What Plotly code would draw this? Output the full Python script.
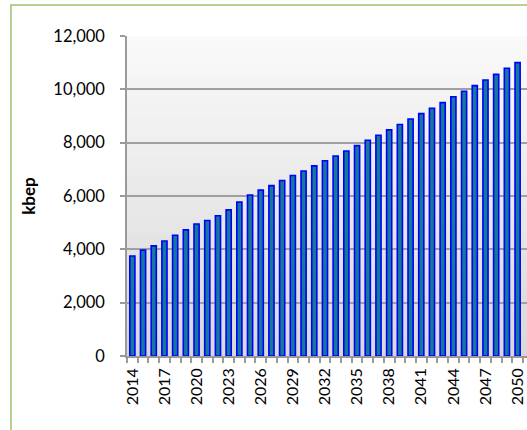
import plotly.graph_objects as go

years = list(range(2014, 2051))
values = [3750, 3970, 4130, 4310, 4530, 4730, 4950, 5080, 5260, 5480,
          5770, 6040, 6220, 6390, 6580, 6770, 6940, 7130, 7320, 7500,
          7690, 7890, 8090, 8280, 8480, 8680, 8890, 9090, 9290, 9500,
          9720, 9930, 10140, 10350, 10560, 10790, 11000]
label_years = list(range(2014, 2051, 3))
y_ticks = [0, 2000, 4000, 6000, 8000, 10000, 12000]

FONT = "Lato"

fig = go.Figure()
fig.add_trace(go.Bar(
    x=years, y=values,
    marker=dict(color="#157a98", line=dict(color="#0000ff", width=1.6)),
    hoverinfo="x+y",
))

# vertical gradient background in plot area
shapes = []
n = 64
top = (250, 250, 250)
bot = (216, 216, 216)
for i in range(n):
    t = (i + 0.5) / n
    c = tuple(round(top[k] + (bot[k] - top[k]) * t) for k in range(3))
    shapes.append(dict(
        type="rect", xref="x domain", yref="y domain",
        x0=0, x1=1, y0=1 - (i + 1) / n, y1=1 - i / n,
        fillcolor="rgb(%d,%d,%d)" % c, line=dict(width=0), layer="below",
    ))
# outer chart border (green)
shapes.append(dict(
    type="rect", xref="paper", yref="paper",
    x0=(11 - 127) / 400, x1=1.2, y0=-0.4, y1=(356 - 5) / 320,
    line=dict(color="#a3c26b", width=1.5), fillcolor="rgba(0,0,0,0)",
    layer="below",
))

fig.update_layout(
    width=527, height=430,
    margin=dict(l=127, r=0, t=36, b=74, autoexpand=False),
    paper_bgcolor="white",
    plot_bgcolor="rgba(0,0,0,0)",
    bargap=0.52,
    showlegend=False,
    shapes=shapes,
    font=dict(family=FONT, color="#000000"),
    xaxis=dict(
        automargin=False,
        range=[2013.5, 2050.88],
        tickmode="array", tickvals=label_years,
        ticktext=[str(y) for y in label_years],
        tickangle=-90,
        tickfont=dict(size=16, family=FONT),
        ticks="", showgrid=False, zeroline=False,
        showline=True, linecolor="#9a9a9a", linewidth=1.5,
        minor=dict(tickmode="array",
                   tickvals=[y - 0.5 for y in years] + [2050.5],
                   ticks="outside", ticklen=5, tickcolor="#9a9a9a",
                   tickwidth=1.5, showgrid=False),
        ticklabelstandoff=4,
        fixedrange=True,
    ),
    yaxis=dict(
        automargin=False,
        range=[0, 12000],
        tickmode="array", tickvals=y_ticks,
        tickformat=",d",
        tickfont=dict(size=16.5, family=FONT),
        ticks="outside", ticklen=5, tickcolor="#9a9a9a", tickwidth=1.5,
        ticklabelstandoff=12,
        showgrid=True, gridcolor="#a0a0a0", gridwidth=1.5,
        zeroline=False,
        showline=True, linecolor="#9a9a9a", linewidth=1.5,
        title=dict(text="<b>kbep</b>", font=dict(size=17, family=FONT),
                   standoff=13),
        fixedrange=True,
    ),
)

fig.write_html(
    "out.html",
    config={"displayModeBar": False},
    post_script="document.body.style.margin='0';document.body.style.overflow='hidden';",
)
